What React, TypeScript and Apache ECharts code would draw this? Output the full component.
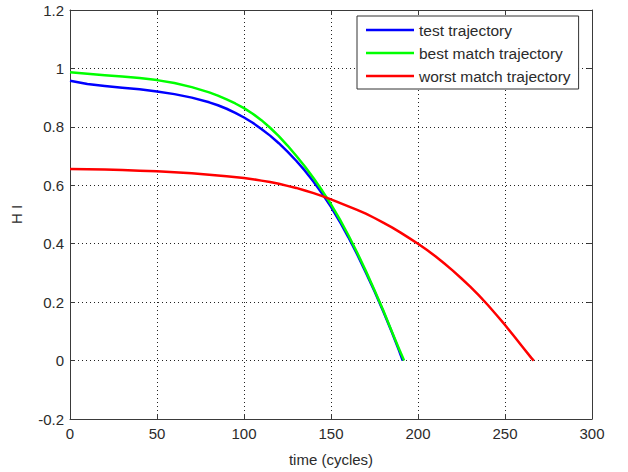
import React, { useEffect, useRef } from "react";
import * as echarts from "echarts";

const testCycles = [0, 10, 20, 30, 40, 50, 60, 70, 80, 85, 90, 95, 100, 105, 110, 115, 120, 125, 130, 135, 140, 145, 150, 155, 160, 165, 170, 175, 180, 185, 189, 191.2];
const testHI = [0.958, 0.947, 0.94, 0.934, 0.929, 0.921, 0.912, 0.9, 0.884, 0.874, 0.862, 0.848, 0.832, 0.814, 0.793, 0.77, 0.744, 0.715, 0.684, 0.65, 0.612, 0.571, 0.526, 0.476, 0.422, 0.364, 0.302, 0.237, 0.169, 0.097, 0.036, 0.0];

const bestCycles = [0, 10, 20, 30, 40, 50, 60, 70, 80, 85, 90, 95, 100, 105, 110, 115, 120, 125, 130, 135, 140, 145, 150, 155, 160, 165, 170, 175, 180, 185, 189, 192];
const bestHI = [0.987, 0.982, 0.977, 0.972, 0.967, 0.96, 0.95, 0.936, 0.918, 0.907, 0.894, 0.88, 0.864, 0.845, 0.823, 0.797, 0.768, 0.736, 0.701, 0.664, 0.624, 0.581, 0.535, 0.484, 0.429, 0.37, 0.307, 0.241, 0.172, 0.099, 0.041, 0.0];

const worstCycles = [0, 10, 20, 30, 40, 50, 60, 70, 80, 90, 100, 105, 110, 115, 120, 125, 130, 135, 140, 145, 150, 155, 160, 165, 170, 175, 180, 185, 190, 195, 200, 205, 210, 215, 220, 225, 230, 235, 240, 245, 250, 255, 260, 265, 266.5];
const worstHI = [0.656, 0.655, 0.654, 0.652, 0.65, 0.648, 0.645, 0.641, 0.636, 0.631, 0.625, 0.621, 0.616, 0.611, 0.605, 0.598, 0.591, 0.582, 0.573, 0.563, 0.552, 0.54, 0.528, 0.516, 0.503, 0.488, 0.472, 0.456, 0.438, 0.419, 0.4, 0.379, 0.357, 0.333, 0.308, 0.281, 0.253, 0.223, 0.191, 0.157, 0.122, 0.085, 0.047, 0.01, 0.0];

const seriesNames = ["test trajectory", "best match trajectory", "worst match trajectory"];
const seriesColors = ["#0000ff", "#00ff00", "#ff0000"];

const xTicks = { min: 0, max: 300, interval: 50 };
const yTicks = { min: -0.2, max: 1.2, interval: 0.2 };

const pairs = (xs: number[], ys: number[]) => xs.map((x, i) => [x, ys[i]]);

export default function App() {
  const ref = useRef<HTMLDivElement>(null);
  useEffect(() => {
    if (!ref.current) return;
    const chart = echarts.init(ref.current, undefined, { renderer: "svg" });
    const font = "Liberation Sans, Arial, sans-serif";
    const axisColor = "#3a3a3a";
    const textColor = "#2b2b2b";
    const dataSets = [pairs(testCycles, testHI), pairs(bestCycles, bestHI), pairs(worstCycles, worstHI)];
    chart.setOption({
      animation: false,
      backgroundColor: "#ffffff",
      textStyle: { fontFamily: font },
      grid: { left: 70, top: 10, right: 36, bottom: 51, containLabel: false },
      legend: {
        left: 357,
        top: 16,
        orient: "vertical",
        backgroundColor: "#ffffff",
        borderColor: "#333333",
        borderWidth: 1,
        padding: [5, 8, 4, 9],
        itemGap: 5,
        itemWidth: 48,
        itemHeight: 2.5,
        icon: "rect",
        z: 10,
        textStyle: { fontSize: 15.5, color: textColor, fontFamily: font, lineHeight: 18, padding: [0, 0, 0, 0] },
        data: seriesNames,
      },
      xAxis: [
        {
          type: "value",
          min: xTicks.min,
          max: xTicks.max,
          interval: xTicks.interval,
          name: "time (cycles)",
          nameLocation: "middle",
          nameGap: 33,
          nameTextStyle: { fontSize: 15, color: textColor, fontFamily: font },
          axisLine: { show: true, onZero: false, lineStyle: { color: axisColor, width: 1 } },
          axisTick: { show: true, inside: true, length: 5, lineStyle: { color: axisColor } },
          axisLabel: { fontSize: 15, color: textColor, margin: 7, fontFamily: font },
          splitLine: { show: true, lineStyle: { type: [1, 3], color: "#222222", width: 1 } },
        },
        {
          type: "value",
          position: "top",
          min: xTicks.min,
          max: xTicks.max,
          interval: xTicks.interval,
          axisLine: { show: true, onZero: false, lineStyle: { color: axisColor, width: 1 } },
          axisTick: { show: true, inside: true, length: 5, lineStyle: { color: axisColor } },
          axisLabel: { show: false },
          splitLine: { show: false },
        },
      ],
      yAxis: [
        {
          type: "value",
          min: yTicks.min,
          max: yTicks.max,
          interval: yTicks.interval,
          name: "H I",
          nameLocation: "middle",
          nameGap: 46,
          nameTextStyle: { fontSize: 15, color: textColor, fontFamily: font },
          axisLine: { show: true, onZero: false, lineStyle: { color: axisColor, width: 1 } },
          axisTick: { show: true, inside: true, length: 5, lineStyle: { color: axisColor } },
          axisLabel: {
            fontSize: 15,
            color: textColor,
            margin: 6,
            fontFamily: font,
            formatter: (v: number) => String(Math.round(v * 10) / 10),
          },
          splitLine: { show: true, lineStyle: { type: [1, 3], color: "#222222", width: 1 } },
        },
        {
          type: "value",
          position: "right",
          min: yTicks.min,
          max: yTicks.max,
          interval: yTicks.interval,
          axisLine: { show: true, onZero: false, lineStyle: { color: axisColor, width: 1 } },
          axisTick: { show: true, inside: true, length: 5, lineStyle: { color: axisColor } },
          axisLabel: { show: false },
          splitLine: { show: false },
        },
      ],
      series: seriesNames.map((name, i) => ({
        name,
        type: "line",
        xAxisIndex: 0,
        yAxisIndex: 0,
        data: dataSets[i],
        showSymbol: false,
        symbol: "none",
        smooth: false,
        color: seriesColors[i],
        lineStyle: { color: seriesColors[i], width: 2.5, join: "round" },
        z: 2 + i,
      })),
    });
    return () => chart.dispose();
  }, []);
  return <div ref={ref} style={{ position: "absolute", left: 0, top: 0, width: 628, height: 472 }} />;
}
